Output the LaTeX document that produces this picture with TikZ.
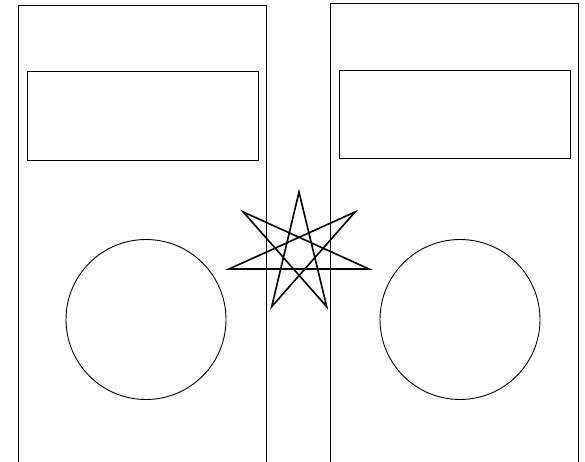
\documentclass[tikz,border=0pt]{standalone}
\tikzset{
  panel/.style={draw=black, line width=1pt},
  screen/.style={draw=black, line width=0.9pt},
  dial/.style={draw=black, line width=0.9pt},
  starline/.style={draw=black, line width=1.6pt, line join=miter}
}

\begin{document}
\begin{tikzpicture}[x=1pt, y=-1pt]
\useasboundingbox (0,0) rectangle (585,462);

% left panel
\draw[panel] (18,462) -- (18,6) -- (266,6) -- (266,462);
\draw[screen] (27,71) rectangle (258,160);
\draw[dial] (146,319.5) circle[radius=80];

% right panel
\draw[panel] (330,462) -- (330,4) -- (578,4) -- (578,462);
\draw[screen] (339,70) rectangle (570,158);
\draw[dial] (460,319.5) circle[radius=80];

% seven pointed star
\coordinate (top) at (299,192);
\coordinate (ur) at (355,212);
\coordinate (r) at (369,269);
\coordinate (br) at (326.7,306.7);
\coordinate (bl) at (271.7,306.7);
\coordinate (l) at (229,269);
\coordinate (ul) at (243.3,212);
\draw[starline] (top) -- (br) -- (ul) -- (r) -- (l) -- (ur) -- (bl) -- cycle;

\end{tikzpicture}
\end{document}
